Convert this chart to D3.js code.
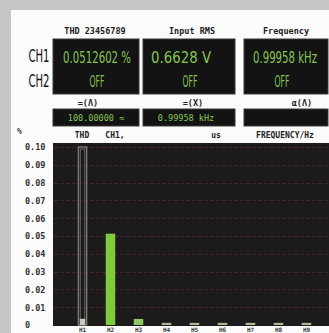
<!DOCTYPE html>
<html><head><meta charset="utf-8">
<script src="https://cdn.jsdelivr.net/npm/d3@7"></script>
<style>html,body{margin:0;padding:0;background:#c6c6c6;overflow:hidden}</style>
</head><body>
<svg id="c" width="329" height="333"></svg>
<script>
// ---- data ----
const harmonics = ["H1","H2","H3","H4","H5","H6","H7","H8","H9"];
const harmonicValues = [null, 0.0513, 0.0034, 0.0012, 0.0012, 0.0012, 0.0012, 0.0012, 0.0012];
const thdFrameValue = [0.10];
const thdMarkerValue = [0.0035];
const yTicks = [0, 0.01, 0.02, 0.03, 0.04, 0.05, 0.06, 0.07, 0.08, 0.09, 0.10];
const yTickLabels = ["0","0.01","0.02","0.03","0.04","0.05","0.06","0.07","0.08","0.09","0.10"];
const panelTitles = ["THD 23456789", "Input RMS", "Frequency"];
const ch1Values = ["0.0512602 %", "0.6628  V", "0.99958 kHz"];
const ch2Values = ["OFF", "OFF", "OFF"];
const subTitles = ["=(Λ)", "=(X)", "α(Λ)"];
const subValues = ["100.00000 ≈", "0.99958 kHz", ""];
const channels = ["CH1", "CH2"];
const chartHeaders = [["THD", 82], ["CH1,", 115], ["us", 216], ["FREQUENCY/Hz", 285]];

(function(){
const svg = d3.select("#c");
const green = "#86c455";
const mono = "'DejaVu Sans Mono', monospace";
const narrow = "'Liberation Sans Narrow','DejaVu Sans Condensed','Liberation Sans',sans-serif";

svg.append("rect").attr("x",11).attr("y",10).attr("width",318).attr("height",323).attr("fill","#fbfbfb");

const boxes = [[53,139],[143,235],[244,328]];
const titleX = [95, 192, 286];
const valX = [97, 181, 285];
const valW = [68, 60, 64];
const offX = [97, 190, 282];
boxes.forEach((b,i)=>{
  svg.append("text").attr("x",titleX[i]).attr("y",34).attr("text-anchor","middle")
    .attr("font-family",mono).attr("font-weight","bold").attr("font-size",8.5).attr("fill","#222")
    .text(panelTitles[i]);
  svg.append("rect").attr("x",b[0]).attr("y",39).attr("width",b[1]-b[0]).attr("height",55)
    .attr("fill","#131313").attr("stroke","#3a3a3a").attr("stroke-width",1);
  svg.append("g").attr("transform",`translate(${valX[i]},63) scale(1,1.3)`)
    .append("text").attr("x",0).attr("y",0).attr("text-anchor","middle")
    .attr("font-family",narrow).attr("font-size",12).attr("fill",green).text(ch1Values[i])
    .attr("textLength",valW[i]).attr("lengthAdjust","spacingAndGlyphs");
  svg.append("g").attr("transform",`translate(${offX[i]},87) scale(1,1.3)`)
    .append("text").attr("x",0).attr("y",0).attr("text-anchor","middle")
    .attr("font-family",narrow).attr("font-size",12).attr("fill",green).text(ch2Values[i])
    .attr("textLength",15).attr("lengthAdjust","spacingAndGlyphs");
  const subX=[88,193,302];
  svg.append("text").attr("x",subX[i]).attr("y",106).attr("text-anchor","middle")
    .attr("font-family",mono).attr("font-weight","bold").attr("font-size",8.5).attr("fill","#222")
    .text(subTitles[i]);
  svg.append("rect").attr("x",b[0]).attr("y",109).attr("width",b[1]-b[0]).attr("height",17)
    .attr("fill","#131313").attr("stroke","#3a3a3a");
  if(subValues[i]) svg.append("text").attr("x",i===1?186:(b[0]+b[1])/2).attr("y",121).attr("text-anchor","middle")
    .attr("font-family",mono).attr("font-size",8.5).attr("fill",green).text(subValues[i]);
});
channels.forEach((c,i)=>{
  svg.append("g").attr("transform",`translate(39,${62+i*25}) scale(1,1.35)`)
    .append("text").attr("x",0).attr("y",0).attr("text-anchor","middle")
    .attr("font-family",narrow).attr("font-size",13).attr("fill","#111").text(c)
    .attr("textLength",21).attr("lengthAdjust","spacingAndGlyphs");
});

const cTop=143, cBottom=326, cLeft=53, cRight=329;
const y = d3.scaleLinear().domain([0,0.10]).range([325,147]);
const x = d3.scaleBand().domain(harmonics).range([68.5,320.5]).paddingInner(0.66).paddingOuter(0.33);

svg.append("rect").attr("x",cLeft).attr("y",cTop).attr("width",cRight-cLeft).attr("height",cBottom-cTop).attr("fill","#1c1a1b");
svg.append("g").selectAll("line").data(yTicks.slice(1)).join("line")
  .attr("x1",cLeft+1).attr("x2",cRight).attr("y1",d=>Math.round(y(d))+0.5).attr("y2",d=>Math.round(y(d))+0.5)
  .attr("stroke","#43252c").attr("stroke-width",1).attr("stroke-dasharray","4,2");
const yAxis = d3.axisLeft(y).tickValues(yTicks).tickSize(0).tickFormat((d,i)=>yTickLabels[i]);
const ga = svg.append("g").attr("transform","translate(25,0)").call(yAxis);
ga.select(".domain").remove();
ga.selectAll("text").attr("text-anchor","start").attr("x",0).attr("dy","0.35em")
  .attr("font-family",mono).attr("font-weight","bold").attr("font-size",8.5).attr("fill","#333");
svg.append("text").attr("x",17).attr("y",134).attr("font-family",mono).attr("font-weight","bold")
  .attr("font-size",8).attr("fill","#333").text("%");
chartHeaders.forEach(h=>{
  svg.append("text").attr("x",h[1]).attr("y",138).attr("text-anchor","middle")
    .attr("font-family",mono).attr("font-weight","bold").attr("font-size",8).attr("fill","#222").text(h[0]);
});

const b0 = x(harmonics[0]), bw = x.bandwidth();
svg.append("rect").attr("x",b0+0.5).attr("y",y(thdFrameValue[0])).attr("width",bw-1).attr("height",y(0)-y(thdFrameValue[0]))
  .attr("fill","none").attr("stroke","#9a9a90").attr("stroke-width",1);
svg.append("rect").attr("x",b0+2.5).attr("y",y(thdFrameValue[0])+2).attr("width",bw-5).attr("height",y(0)-y(thdFrameValue[0])-4)
  .attr("fill","none").attr("stroke","#6a6a62").attr("stroke-width",1);
svg.append("rect").attr("x",b0+2).attr("y",y(thdMarkerValue[0])).attr("width",bw-4).attr("height",y(0)-y(thdMarkerValue[0]))
  .attr("fill","#c8cbbf");

svg.append("g").selectAll("rect").data(harmonics.map((h,i)=>({h,v:harmonicValues[i]})).filter(d=>d.v!==null)).join("rect")
  .attr("x",d=>x(d.h)).attr("width",bw)
  .attr("y",d=>y(d.v)).attr("height",d=>y(0)-y(d.v))
  .attr("fill",(d,i)=>i===0?"#7fcb3c":(i===1?"#8fc860":"#a9b994"));

const gx = svg.append("g").attr("transform",`translate(0,${cBottom})`).call(d3.axisBottom(x).tickSize(0));
gx.select(".domain").remove();
gx.selectAll("text").attr("y",0).attr("dy","5.6px").attr("font-family",mono).attr("font-weight","bold").attr("font-size",6).attr("fill","#333");
})();
</script>
</body></html>
